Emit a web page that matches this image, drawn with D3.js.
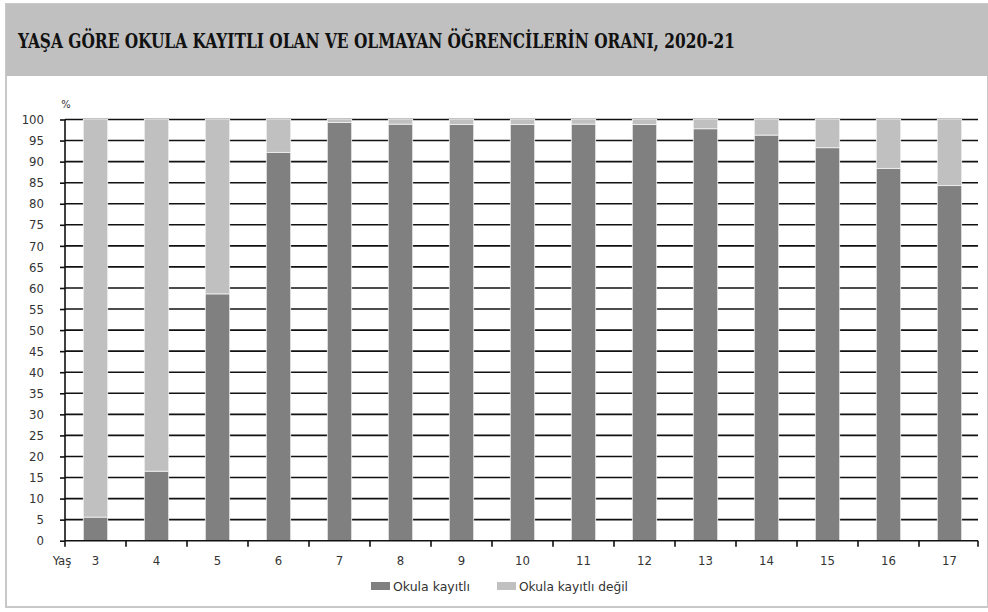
<!DOCTYPE html>
<html>
<head>
<meta charset="utf-8">
<script src="https://cdn.jsdelivr.net/npm/d3@7"></script>
<style>
  body { margin: 0; background: #fff; }
  text { fill: #222; }
</style>
</head>
<body>
<div id="chart"></div>
<script>
const width = 988;
const height = 612;

const title = "YAŞA GÖRE OKULA KAYITLI OLAN VE OLMAYAN ÖĞRENCİLERİN ORANI, 2020-21";
const ages = ["3", "4", "5", "6", "7", "8", "9", "10", "11", "12", "13", "14", "15", "16", "17"];
const kayitli = [5.6, 16.5, 58.6, 92.2, 99.3, 98.9, 98.8, 98.8, 98.9, 98.8, 97.8, 96.3, 93.3, 88.4, 84.3];
const kayitliDegil = [94.4, 83.5, 41.4, 7.8, 0.7, 1.1, 1.2, 1.2, 1.1, 1.2, 2.2, 3.7, 6.7, 11.6, 15.7];
const seriesNames = ["Okula kayıtlı", "Okula kayıtlı değil"];
const colors = ["#808080", "#c0c0c0"];
const yTicks = d3.range(0, 101, 5);

const svg = d3
  .select("#chart")
  .append("svg")
  .attr("width", width)
  .attr("height", height);

// frame + header band
svg.append("rect")
  .attr("x", 6).attr("y", 4)
  .attr("width", width - 6).attr("height", 603)
  .attr("fill", "#fff")
  .attr("stroke", "#c8c8c8")
  .attr("stroke-width", 2);

svg.append("rect")
  .attr("x", 6).attr("y", 4)
  .attr("width", width - 6).attr("height", 72)
  .attr("fill", "#c0c0c0");

svg.append("text")
  .attr("x", 18)
  .attr("y", 48)
  .attr("font-family", "'DejaVu Serif Condensed', 'DejaVu Serif', serif")
  .attr("font-stretch", "condensed")
  .attr("font-weight", "bold")
  .attr("font-size", 20)
  .attr("textLength", 717)
  .attr("lengthAdjust", "spacingAndGlyphs")
  .style("fill", "#111")
  .text(title);

const table = ages.map((a, i) => ({ age: a, [seriesNames[0]]: kayitli[i], [seriesNames[1]]: kayitliDegil[i] }));
const stack = d3.stack().keys(seriesNames)(table);

const x = d3.scaleBand()
  .domain(ages)
  .range([65, 980])
  .paddingInner(0.6)
  .paddingOuter(0.3);

const y = d3.scaleLinear().domain([0, 100]).range([540.7, 119.5]);

const labelFont = "'Liberation Sans Narrow', 'DejaVu Sans Condensed', 'DejaVu Sans', sans-serif";

// gridlines + y axis
const yAxis = svg.append("g")
  .attr("transform", "translate(65,0)")
  .call(d3.axisLeft(y).tickValues(yTicks).tickSize(5).tickSizeOuter(0).tickPadding(16));
yAxis.select(".domain").remove();
yAxis.selectAll(".tick line").attr("stroke", "#111").attr("stroke-width", 1.6);
yAxis.selectAll(".tick text")
  .attr("font-family", labelFont)
  .attr("font-stretch", "condensed")
  .attr("font-size", 13)
  .style("fill", "#333");

svg.append("g")
  .selectAll("line")
  .data(yTicks.filter(d => d > 0))
  .join("line")
  .attr("x1", 65).attr("x2", 978)
  .attr("y1", d => y(d)).attr("y2", d => y(d))
  .attr("stroke", "#111")
  .attr("stroke-width", 1.6);

svg.append("text")
  .attr("x", 66)
  .attr("y", 108)
  .attr("text-anchor", "middle")
  .attr("font-family", labelFont)
  .attr("font-size", 11)
  .style("fill", "#333")
  .text("%");

// bars
svg.append("g")
  .selectAll("g")
  .data(stack)
  .join("g")
  .attr("fill", (d, i) => colors[i])
  .selectAll("rect")
  .data(d => d)
  .join("rect")
  .attr("x", d => x(d.data.age))
  .attr("width", x.bandwidth())
  .attr("y", d => y(d[1]))
  .attr("height", d => y(d[0]) - y(d[1]))
  .attr("stroke", "#f2f2f2")
  .attr("stroke-width", 0.8);

// axes lines
svg.append("line")
  .attr("x1", 65).attr("x2", 65)
  .attr("y1", y(100)).attr("y2", y(0))
  .attr("stroke", "#111").attr("stroke-width", 1.6);

const step = x.step();
const bounds = ages.map(a => x(a) - step * x.paddingInner() / 2).concat([978]);
svg.append("line")
  .attr("x1", 65).attr("x2", 978)
  .attr("y1", y(0)).attr("y2", y(0))
  .attr("stroke", "#111").attr("stroke-width", 1.6);
svg.append("g")
  .selectAll("line")
  .data(bounds)
  .join("line")
  .attr("x1", d => d).attr("x2", d => d)
  .attr("y1", y(0)).attr("y2", y(0) + 6)
  .attr("stroke", "#111").attr("stroke-width", 1.6);

svg.append("g")
  .selectAll("text")
  .data(ages)
  .join("text")
  .attr("x", d => x(d) + x.bandwidth() / 2)
  .attr("y", 565)
  .attr("text-anchor", "middle")
  .attr("font-family", labelFont)
  .attr("font-stretch", "condensed")
  .attr("font-size", 13)
  .style("fill", "#333")
  .text(d => d);

svg.append("text")
  .attr("x", 62)
  .attr("y", 565)
  .attr("text-anchor", "middle")
  .attr("font-family", labelFont)
  .attr("font-stretch", "condensed")
  .attr("font-size", 13)
  .style("fill", "#333")
  .text("Yaş");

// legend
const legendX = [371, 497];
const legendW = [77, 109];
const legend = svg.append("g");
legend.selectAll("rect")
  .data(seriesNames)
  .join("rect")
  .attr("x", (d, i) => legendX[i])
  .attr("y", 582)
  .attr("width", 19)
  .attr("height", 8)
  .attr("fill", (d, i) => colors[i]);
legend.selectAll("text")
  .data(seriesNames)
  .join("text")
  .attr("x", (d, i) => legendX[i] + 22)
  .attr("y", 591)
  .attr("font-family", labelFont)
  .attr("font-stretch", "condensed")
  .attr("font-size", 13)
  .attr("textLength", (d, i) => legendW[i])
  .attr("lengthAdjust", "spacingAndGlyphs")
  .style("fill", "#333")
  .text(d => d);
</script>
</body>
</html>
